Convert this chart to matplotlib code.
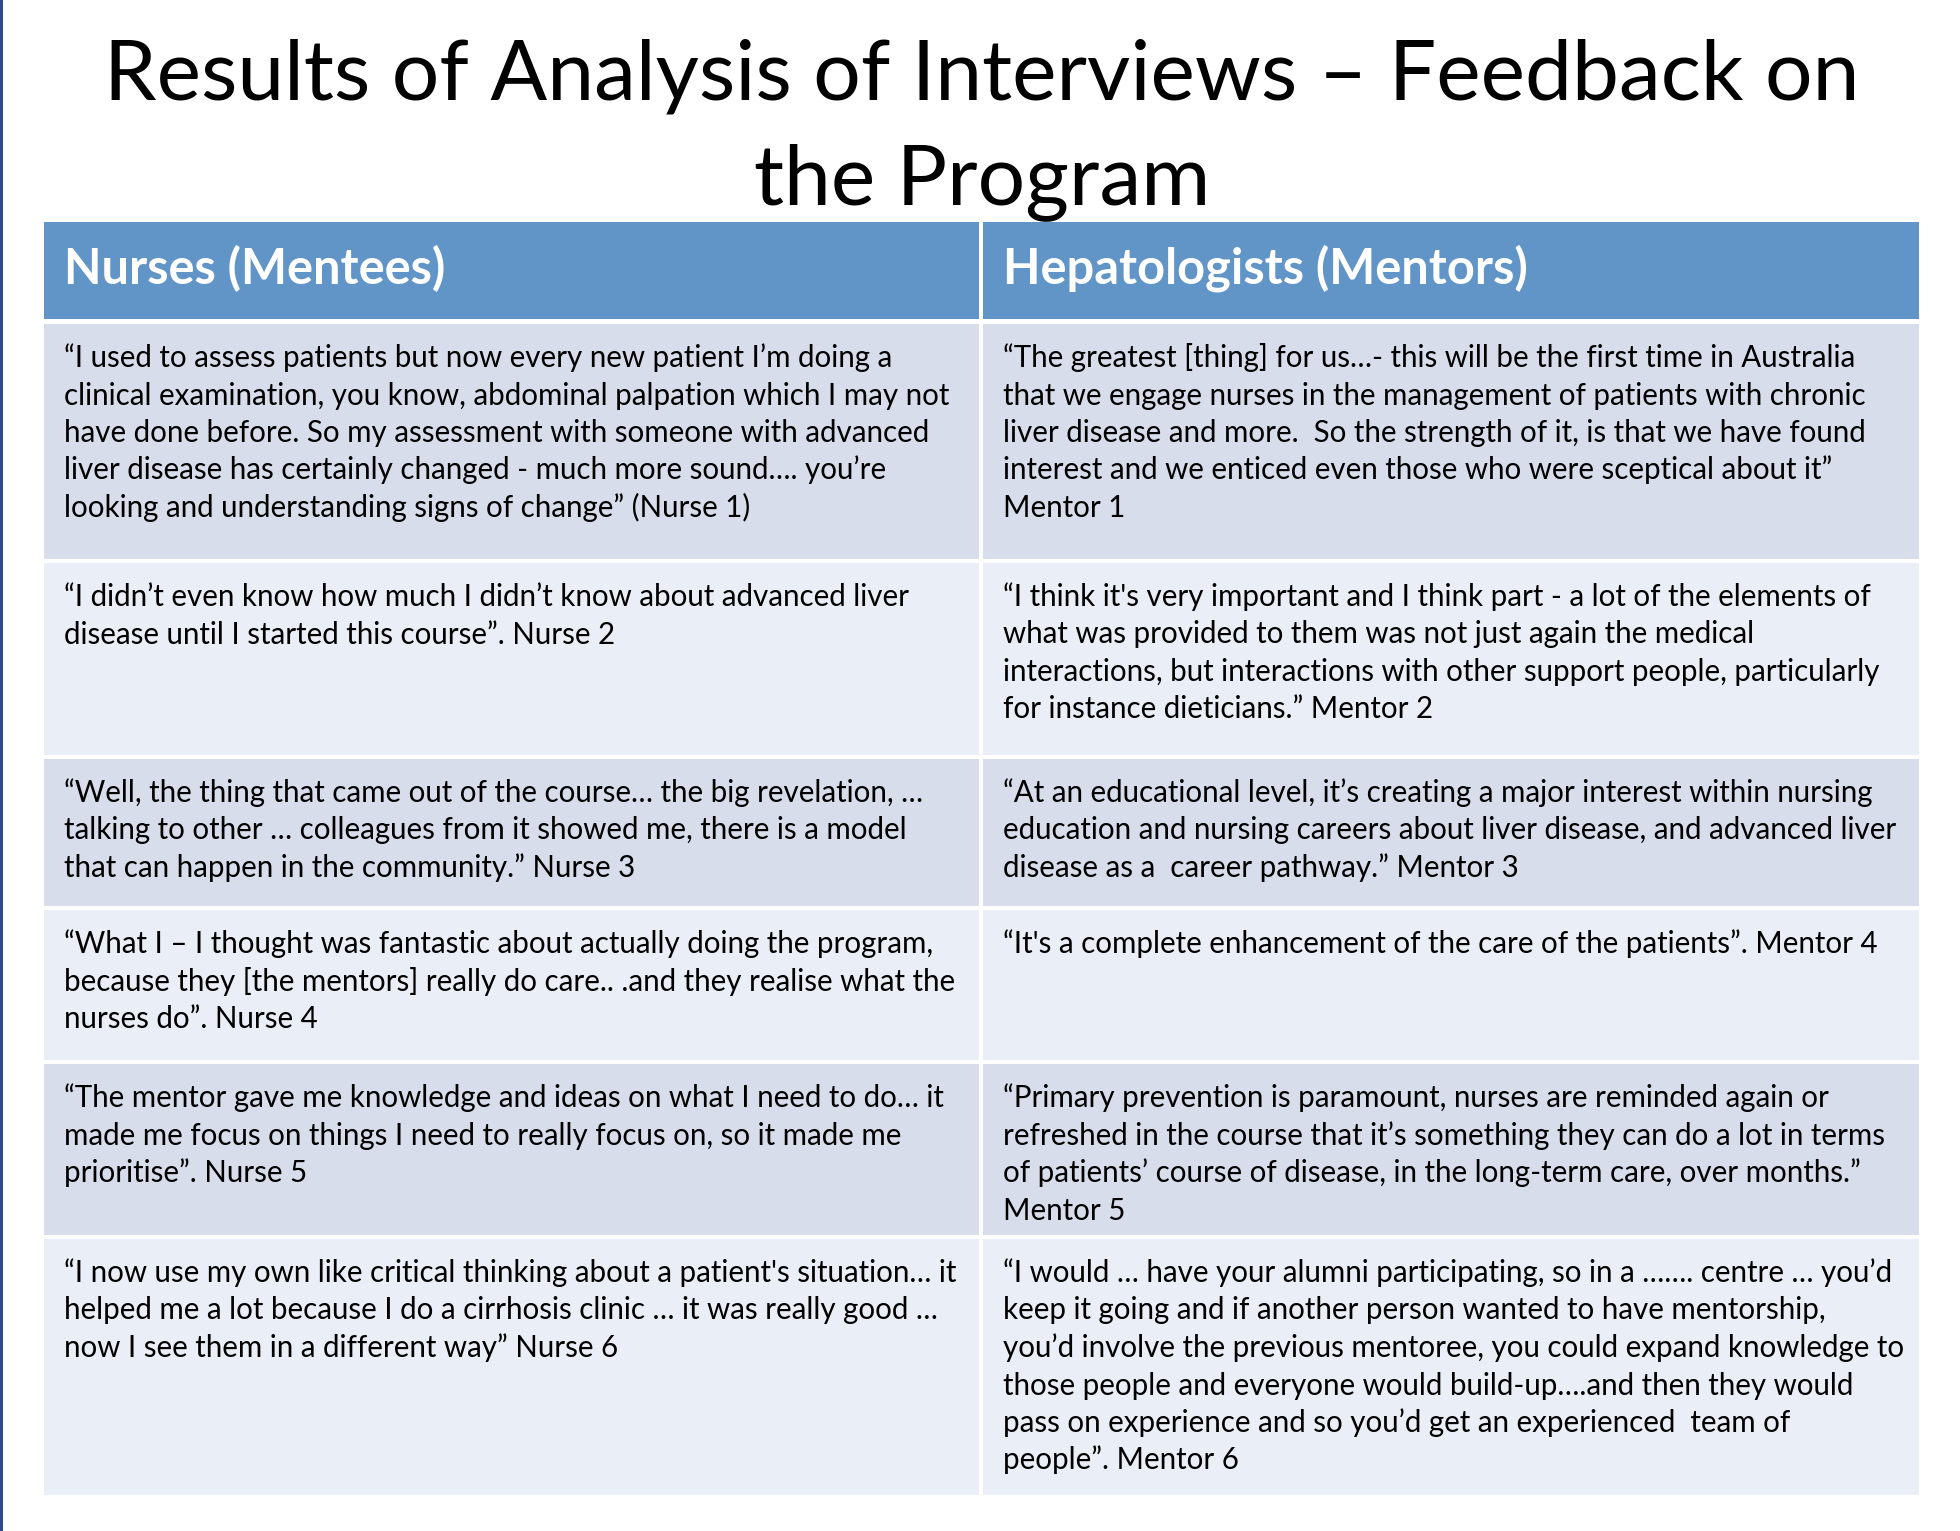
import matplotlib
matplotlib.use("Agg")
import matplotlib.pyplot as plt
from matplotlib.patches import Rectangle

# ---------------- data ----------------
title_lines = ["Results of Analysis of Interviews \u2013 Feedback on", "the Program"]
headers = ["Nurses (Mentees)", "Hepatologists (Mentors)"]

nurses = [
    "\u201cI used to assess patients but now every new patient I\u2019m doing a\n"
    "clinical examination, you know, abdominal palpation which I may not\n"
    "have done before. So my assessment with someone with advanced\n"
    "liver disease has certainly changed - much more sound\u2026. you\u2019re\n"
    "looking and understanding signs of change\u201d (Nurse 1)",
    "\u201cI didn\u2019t even know how much I didn\u2019t know about advanced liver\n"
    "disease until I started this course\u201d. Nurse 2",
    "\u201cWell, the thing that came out of the course\u2026 the big revelation, \u2026\n"
    "talking to other \u2026 colleagues from it showed me, there is a model\n"
    "that can happen in the community.\u201d Nurse 3",
    "\u201cWhat I \u2013 I thought was fantastic about actually doing the program,\n"
    "because they [the mentors] really do care.. .and they realise what the\n"
    "nurses do\u201d. Nurse 4",
    "\u201cThe mentor gave me knowledge and ideas on what I need to do\u2026 it\n"
    "made me focus on things I need to really focus on, so it made me\n"
    "prioritise\u201d. Nurse 5",
    "\u201cI now use my own like critical thinking about a patient's situation\u2026 it\n"
    "helped me a lot because I do a cirrhosis clinic \u2026 it was really good \u2026\n"
    "now I see them in a different way\u201d Nurse 6",
]

mentors = [
    "\u201cThe greatest [thing] for us\u2026- this will be the first time in Australia\n"
    "that we engage nurses in the management of patients with chronic\n"
    "liver disease and more.  So the strength of it, is that we have found\n"
    "interest and we enticed even those who were sceptical about it\u201d\n"
    "Mentor 1",
    "\u201cI think it's very important and I think part - a lot of the elements of\n"
    "what was provided to them was not just again the medical\n"
    "interactions, but interactions with other support people, particularly\n"
    "for instance dieticians.\u201d Mentor 2",
    "\u201cAt an educational level, it\u2019s creating a major interest within nursing\n"
    "education and nursing careers about liver disease, and advanced liver\n"
    "disease as a  career pathway.\u201d Mentor 3",
    "\u201cIt's a complete enhancement of the care of the patients\u201d. Mentor 4",
    "\u201cPrimary prevention is paramount, nurses are reminded again or\n"
    "refreshed in the course that it\u2019s something they can do a lot in terms\n"
    "of patients\u2019 course of disease, in the long-term care, over months.\u201d\n"
    "Mentor 5",
    "\u201cI would \u2026 have your alumni participating, so in a \u2026\u2026. centre \u2026 you\u2019d\n"
    "keep it going and if another person wanted to have mentorship,\n"
    "you\u2019d involve the previous mentoree, you could expand knowledge to\n"
    "those people and everyone would build-up\u2026.and then they would\n"
    "pass on experience and so you\u2019d get an experienced  team of\n"
    "people\u201d. Mentor 6",
]

# ---------------- layout (pixels) ----------------
W, H = 1960, 1531
FONT = "Lato"
col_x = [44, 983]
col_w = [935, 936]
header_top, header_h = 222, 97
row_tops = [324, 563, 759, 910, 1064, 1239]
row_hs = [235, 192, 147, 150, 171, 256]
pad_x = 20
first_base = 43
line_step = 37.5

header_color = "#6195C7"
band_colors = ["#D7DDEB", "#EAEEF6"]

fig = plt.figure(figsize=(W / 100, H / 100), dpi=100)
fig.patch.set_facecolor("white")
ax = fig.add_axes([0, 0, 1, 1])
ax.set_xlim(0, W)
ax.set_ylim(H, 0)
ax.axis("off")
renderer = fig.canvas.get_renderer()


def fit_size(s, target, weight="normal"):
    t = ax.text(0, 0, s, fontsize=20, family=FONT, weight=weight)
    w = t.get_window_extent(renderer).width
    t.remove()
    return 20 * target / w


title_fs = fit_size(title_lines[0], 1760)
header_fs = fit_size(headers[0], 382, weight="bold")
body_fs = fit_size(nurses[0].split("\n")[0], 831)

# left border line of the slide
ax.add_patch(Rectangle((0, 0), 3, H, color="#2F4A8E", lw=0))

# title
for i, ln in enumerate(title_lines):
    ax.text(W / 2 + 2, 99 + i * 105, ln, fontsize=title_fs, family=FONT,
            ha="center", va="baseline", color="black")

# header
for c in range(2):
    ax.add_patch(Rectangle((col_x[c], header_top), col_w[c], header_h,
                           color=header_color, lw=0))
    ax.text(col_x[c] + pad_x, 284, headers[c], fontsize=header_fs,
            family=FONT, weight="bold", color="white", va="baseline")

# body rows
for r, (top, h) in enumerate(zip(row_tops, row_hs)):
    for c, col in enumerate([nurses, mentors]):
        ax.add_patch(Rectangle((col_x[c], top), col_w[c], h,
                               color=band_colors[r % 2], lw=0))
        for k, ln in enumerate(col[r].split("\n")):
            ax.text(col_x[c] + pad_x, top + first_base + k * line_step, ln,
                    fontsize=body_fs, family=FONT, color="black",
                    va="baseline")

fig.savefig("out.png", dpi=100, facecolor="white")
